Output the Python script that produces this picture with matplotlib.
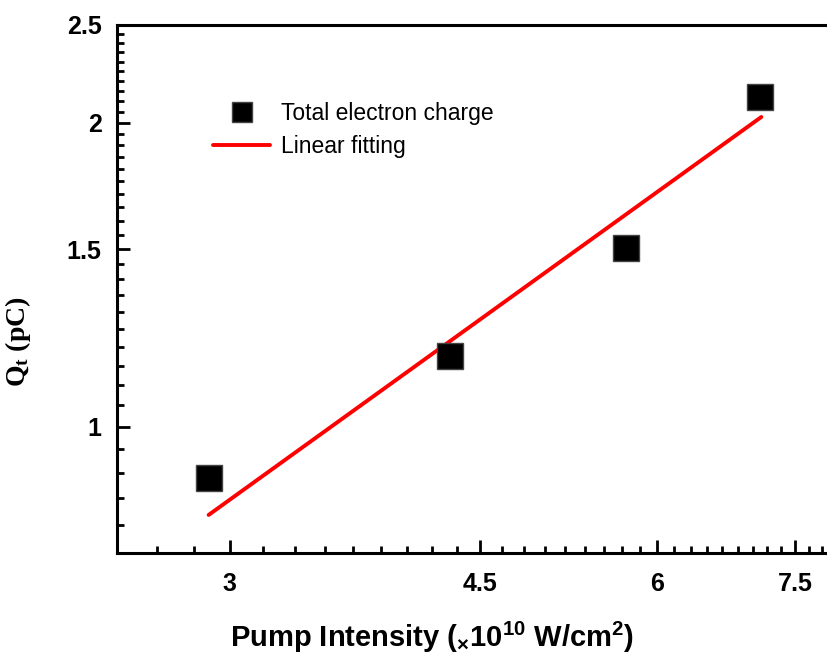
import numpy as np
import matplotlib
matplotlib.use("Agg")
import matplotlib.pyplot as plt
from matplotlib.ticker import FixedLocator, FuncFormatter, NullFormatter

# measured points (pump intensity in 1e10 W/cm^2, charge in pC)
intensity = [2.9, 4.29, 5.70, 7.08]
charge = [0.89, 1.175, 1.505, 2.12]

fit_x = [2.9, 7.1]
fit_y = [0.818, 2.027]

x_major = [3, 4.5, 6, 7.5]
y_major = [1, 1.5, 2, 2.5]

plt.rcParams['font.family'] = ['Liberation Sans', 'DejaVu Sans']
plt.rcParams['mathtext.default'] = 'regular'

fig = plt.figure(figsize=(8.27, 6.59), dpi=100)
ax = fig.add_axes([117 / 827, 106 / 659, 718 / 827, 528 / 659])

ax.plot(intensity, charge, ls='none', marker='s', ms=18.5, mfc='black',
        mec='#444444', mew=1.0, label='Total electron charge', zorder=3)
ax.plot(fit_x, fit_y, color='#ff0000', lw=2.8, solid_capstyle='round',
        label='Linear fitting', zorder=2)

ax.set_xscale('log')
ax.set_yscale('log')
ax.set_xlim(2.5, 8)
ax.set_ylim(0.75, 2.5)

fmt = FuncFormatter(lambda v, p: '%g' % v)
ax.xaxis.set_major_locator(FixedLocator(x_major))
ax.xaxis.set_major_formatter(fmt)
ax.xaxis.set_minor_locator(FixedLocator(np.round(np.arange(2.5, 8.01, 1 / 6), 4)))
ax.xaxis.set_minor_formatter(NullFormatter())
ax.yaxis.set_major_locator(FixedLocator(y_major))
ax.yaxis.set_major_formatter(fmt)
ax.yaxis.set_minor_locator(FixedLocator(np.round(np.arange(0.75, 2.51, 0.05), 3)))
ax.yaxis.set_minor_formatter(NullFormatter())

for s in ax.spines.values():
    s.set_linewidth(2.2)
ax.spines['right'].set_visible(False)

ax.tick_params(which='both', direction='in', width=2, top=False, right=False)
ax.tick_params(which='major', length=9.5, labelsize=18)
ax.tick_params(axis='x', which='major', pad=14)
ax.tick_params(axis='y', which='major', pad=11)
ax.tick_params(which='minor', length=5)
for lab in ax.get_xticklabels() + ax.get_yticklabels():
    lab.set_fontweight('bold')

ax.set_ylabel('Q$_t$ (pC)', family=['Liberation Serif'], fontweight='bold', fontsize=20)
ax.yaxis.set_label_coords(-0.117, 0.40)

fig.text(0.522, 0.033, 'Pump Intensity ($_{\\times}$10$^{10}$ W/cm$^2$)',
         ha='center', va='center', fontsize=21, fontweight='bold')

leg = ax.legend(loc='upper left', bbox_to_anchor=(87 / 718, 1 - 68 / 528),
                frameon=False, fontsize=16.5, handlelength=2.5, handletextpad=0.45,
                labelspacing=0.42, markerscale=0.75, borderaxespad=0)

fig.savefig('out.png', dpi=100)
